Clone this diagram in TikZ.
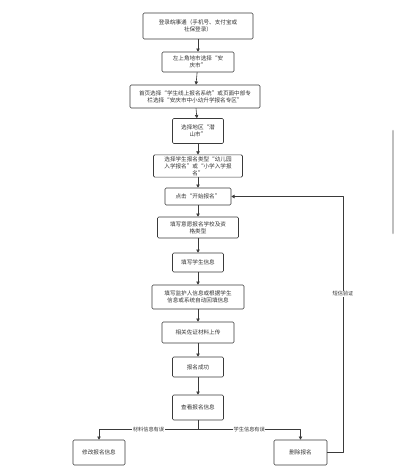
\documentclass[tikz,border=0pt]{standalone}
\usepackage{fontspec}
\setmainfont{Noto Sans CJK SC}
\usetikzlibrary{arrows.meta}
\definecolor{linea}{HTML}{3A3A3A}
\tikzset{
  paso/.style={draw=linea, line width=0.6pt, rounded corners=1.2pt, align=center,
    inner sep=1.5pt, text=black!80, font=\fontsize{5.6}{7}\selectfont},
  flecha/.style={draw=linea, line width=0.6pt, -{Triangle[length=3.2pt,width=3.4pt]}},
  etiq/.style={fill=white, inner sep=0.6pt, text=black!80, font=\fontsize{5.2}{6}\selectfont}
}
\begin{document}
\begin{tikzpicture}[x=1pt, y=-1pt, line cap=round, line join=round]
  \useasboundingbox[fill=white] (0,0) rectangle (400,466);
  % la columna de pasos
  \node[paso, minimum width=110pt, minimum height=26pt] (dl) at (198,26) {登录皖事通（手机号、支付宝或\\社保登录）};
  \node[paso, minimum width=72pt, minimum height=20pt] (ds) at (198,62) {左上角地市选择“安\\庆市”};
  \node[paso, minimum width=130pt, minimum height=23pt] (sy) at (195,96.5) {首页选择“学生线上报名系统”或页面中部专\\栏选择“安庆市中小幼升学报名专区”};
  \node[paso, minimum width=51pt, minimum height=25pt] (dq) at (198,131) {选择地区“潜\\山市”};
  \node[paso, minimum width=89pt, minimum height=22pt] (lx) at (198,166) {选择学生报名类型“幼儿园\\入学报名”或“小学入学报\\名”};
  \node[paso, minimum width=66pt, minimum height=17pt] (ks) at (198,196.5) {点击“开始报名”};
  \node[paso, minimum width=81pt, minimum height=21pt] (yy) at (198,227.5) {填写意愿报名学校及资\\格类型};
  \node[paso, minimum width=51pt, minimum height=19pt] (xs) at (198,262.5) {填写学生信息};
  \node[paso, minimum width=92pt, minimum height=24pt] (jh) at (198,297) {填写监护人信息或根据学生\\信息或系统自动回填信息};
  \node[paso, minimum width=72pt, minimum height=21pt] (zz) at (198,332.5) {相关佐证材料上传};
  \node[paso, minimum width=51pt, minimum height=20pt] (cg) at (198,367) {报名成功};
  \node[paso, minimum width=51pt, minimum height=25pt] (ck) at (198,407.5) {查看报名信息};
  % las dos salidas
  \node[paso, minimum width=52pt, minimum height=25pt] (xg) at (99,452.5) {修改报名信息};
  \node[paso, minimum width=53pt, minimum height=25pt] (sc) at (300.5,452.5) {删除报名};
  \foreach \a/\b in {dl/ds, ds/sy, sy/dq, dq/lx, lx/ks, ks/yy, yy/xs, xs/jh, jh/zz, zz/cg, cg/ck}
    \draw[flecha] (\a) -- (\b);
  \coordinate (fz) at (198,429);
  \coordinate (hv) at (343,300);
  \draw[draw=linea, line width=0.6pt] (ck.south) -- (fz);
  \draw[flecha] (fz) -| node[etiq, pos=0.25] {材料信息有误} (xg.north);
  \draw[flecha] (fz) -| node[etiq, pos=0.25] {学生信息有误} (sc.north);
  % la vuelta
  \draw[flecha] (sc.east) -- (sc.east -| hv) -- node[etiq, pos=0.62] {短信验证} (ks.east -| hv) -- (ks.east);
  % la barra
  \draw[line width=2.6pt, black!25] (393,131) -- (393,233);
\end{tikzpicture}
\end{document}
